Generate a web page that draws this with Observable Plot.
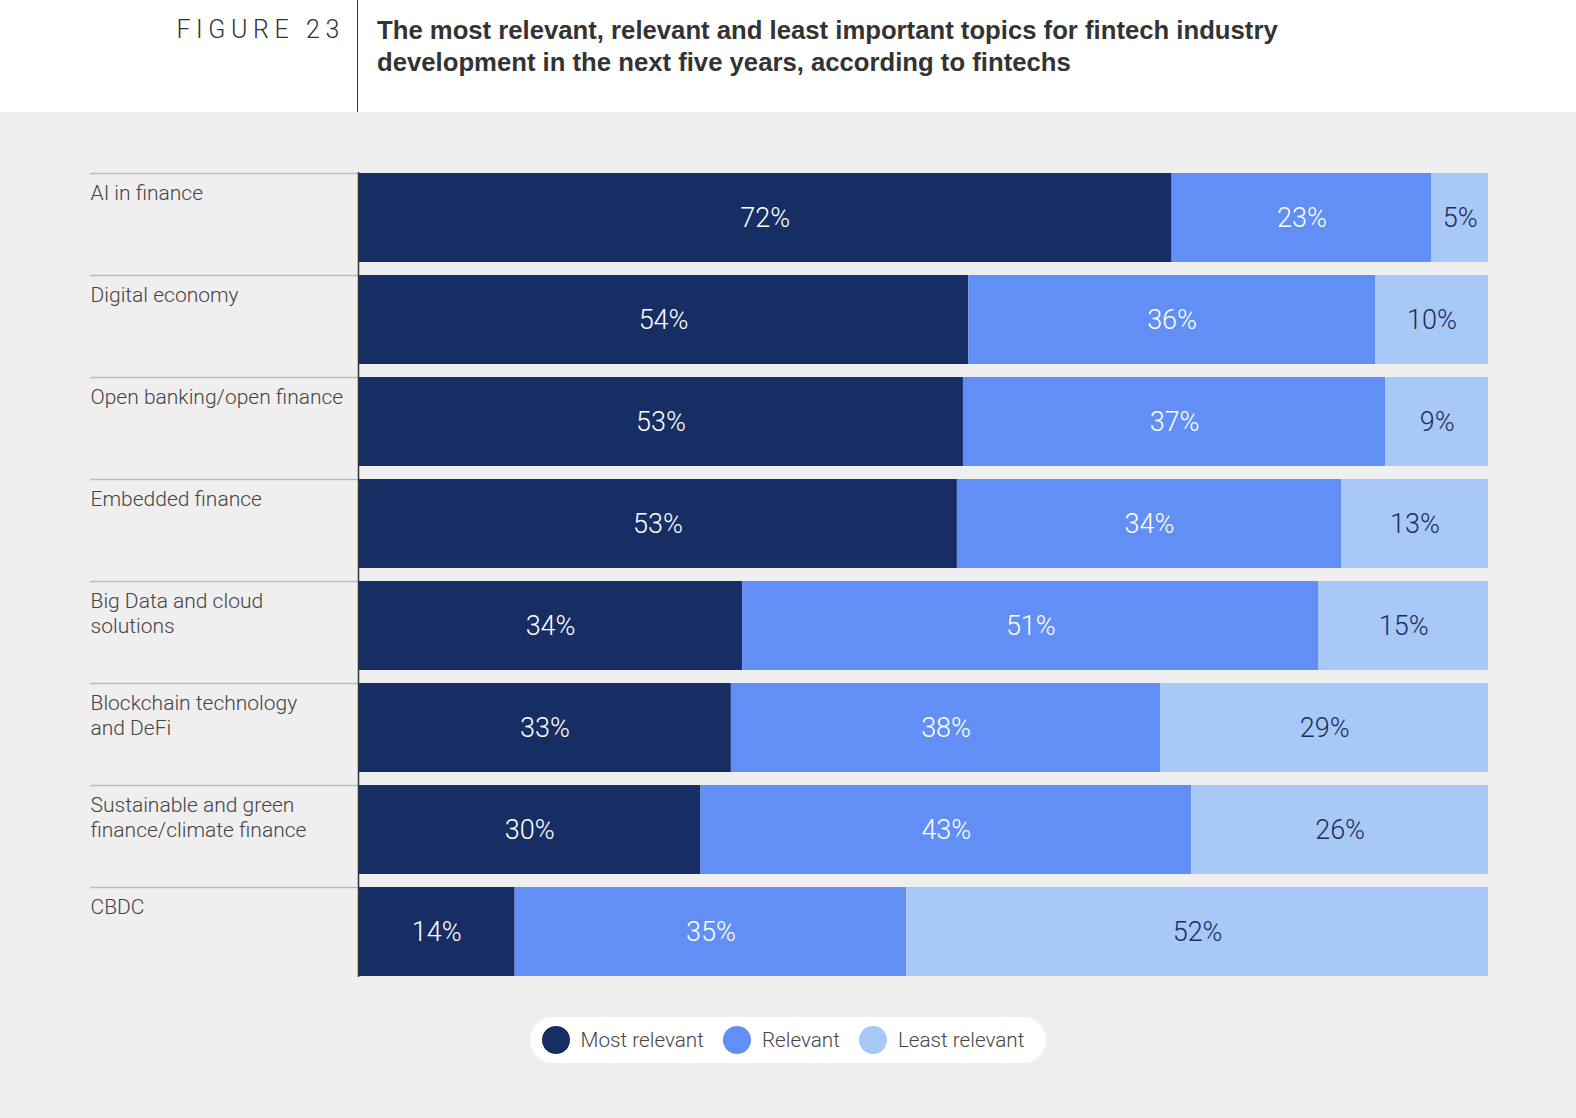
<!DOCTYPE html>
<html><head><meta charset="utf-8">
<script src="https://cdn.jsdelivr.net/npm/d3@7"></script>
<script src="https://cdn.jsdelivr.net/npm/@observablehq/plot@0.6"></script>
<style>
html,body{margin:0;padding:0;background:#efefef;overflow:hidden;font-family:"Liberation Sans",Arial,sans-serif;}
#header{position:relative;height:112px;background:#fff;width:1576px;}
#fig{position:absolute;left:0;top:14px;width:345px;text-align:right;font-size:25px;line-height:32px;letter-spacing:5.6px;color:#333;font-family:Roboto,sans-serif;font-weight:300;}
#vline{position:absolute;left:357px;top:0;width:1px;height:112px;background:#333;}
#title{position:absolute;left:377px;top:14px;font-size:25.7px;line-height:32px;font-weight:bold;color:#333;}
#legend-wrap{display:flex;justify-content:center;margin-top:5px;width:1576px;}
.pill{background:#fff;border-radius:24px;height:46px;display:flex;align-items:center;padding:0 22px 0 12px;}
.item{display:flex;align-items:center;margin-right:19px;font-size:20.7px;color:#444;font-family:Roboto,sans-serif;font-weight:300;}
.item:last-child{margin-right:0;}
.sw{width:28px;height:28px;border-radius:50%;margin-right:11px;}
</style>
</head><body>
<div id="header">
  <div id="fig">FIGURE 23</div>
  <div id="vline"></div>
  <div id="title">The most relevant, relevant and least important topics for fintech industry<br>development in the next five years, according to fintechs</div>
</div>
<div id="chart"></div>
<div id="legend-wrap"><div class="pill" id="legend"></div></div>
<script>
const topics = ["AI in finance","Digital economy","Open banking/open finance","Embedded finance","Big Data and cloud\nsolutions","Blockchain technology\nand DeFi","Sustainable and green\nfinance/climate finance","CBDC"];
const levels = ["Most relevant","Relevant","Least relevant"];
const mostRelevant = [72,54,53,53,34,33,30,14];
const relevant = [23,36,37,34,51,38,43,35];
const leastRelevant = [5,10,9,13,15,29,26,52];
const colors = ["#162e64","#628ff5","#a8c8f8"];
const labelColors = ["#ffffff","#ffffff","#1b2d5c"];

const series = [mostRelevant, relevant, leastRelevant];
const data = [];
topics.forEach((t, i) => levels.forEach((l, j) => data.push({topic: t, level: l, value: series[j][i]})));

const W = 1576, H = 900, mL = 358, mR = 88, mT = 60, mB = 35;
const padIn = 0.13;
const yb = d3.scaleBand(topics, [mT, H - mB]).paddingInner(padIn).paddingOuter(0);
const bw = yb.bandwidth();
const lightFont = "Roboto, sans-serif";

const chart = Plot.plot({
  width: W, height: H,
  marginLeft: mL, marginRight: mR, marginTop: mT, marginBottom: mB,
  style: {background: "transparent", fontFamily: lightFont},
  x: {domain: [0, 1], axis: null},
  y: {domain: topics, axis: null, paddingInner: padIn, paddingOuter: 0},
  color: {domain: levels, range: colors},
  marks: [
    Plot.ruleY(topics, {y: d => d, dy: -bw / 2, insetLeft: -(mL - 90), insetRight: W - mR - mL, stroke: "#bdbdbd", strokeWidth: 1.5}),
    Plot.text(topics, {y: d => d, text: d => d, frameAnchor: "left", dx: -(mL - 90), dy: -bw / 2 + 8, textAnchor: "start", lineAnchor: "top", lineHeight: 1.22, fontSize: 21, fontWeight: 300, fill: "#444"}),
    Plot.barX(data, Plot.stackX({x: "value", y: "topic", fill: "level", order: levels, offset: "normalize"})),
    Plot.text(data, Plot.stackX({x: "value", y: "topic", z: "level", order: levels, offset: "normalize", text: d => d.value + "%", fontSize: 27, fontWeight: 300, fill: d => labelColors[levels.indexOf(d.level)]})),
    Plot.ruleX([0], {stroke: "#333", strokeWidth: 1.5})
  ]
});
document.getElementById("chart").appendChild(chart);

const legend = document.getElementById("legend");
levels.forEach((l, j) => {
  const it = document.createElement("div");
  it.className = "item";
  it.innerHTML = `<div class="sw" style="background:${colors[j]}"></div><span>${l}</span>`;
  legend.appendChild(it);
});
</script>
</body></html>
